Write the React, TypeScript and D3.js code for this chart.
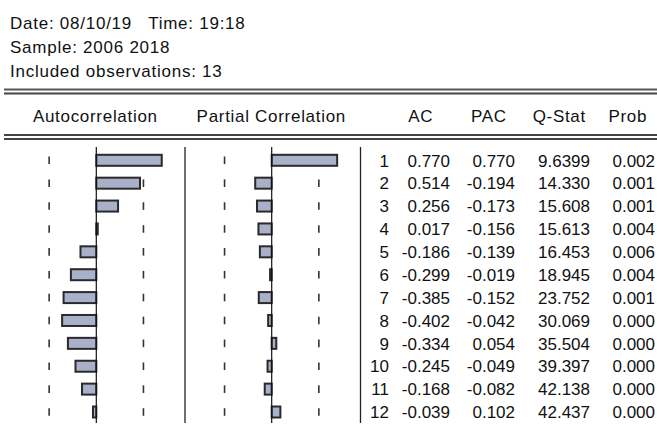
import React from "react";
import * as d3 from "d3";

const headerLines = ["Date: 08/10/19   Time: 19:18", "Sample: 2006 2018", "Included observations: 13"];
const nObs = 13;
const lags = [1, 2, 3, 4, 5, 6, 7, 8, 9, 10, 11, 12];
const ac = [0.770, 0.514, 0.256, 0.017, -0.186, -0.299, -0.385, -0.402, -0.334, -0.245, -0.168, -0.039];
const pac = [0.770, -0.194, -0.173, -0.156, -0.139, -0.019, -0.152, -0.042, 0.054, -0.049, -0.082, 0.102];
const qstat = ["9.6399", "14.330", "15.608", "15.613", "16.453", "18.945", "23.752", "30.069", "35.504", "39.397", "42.138", "42.437"];
const prob = ["0.002", "0.001", "0.001", "0.004", "0.006", "0.004", "0.001", "0.000", "0.000", "0.000", "0.000", "0.000"];
const columnTitles = ["Autocorrelation", "Partial Correlation", "AC", "PAC", "Q-Stat", "Prob"];

const W = 657;
const H = 430;
const FONT = "'Liberation Sans', Arial, sans-serif";

export default function App() {
  const bound = 2 / Math.sqrt(nObs);
  const y = d3.scaleLinear().domain([1, 12]).range([160.3, 412]);
  const xAc = d3.scaleLinear().domain([-1, 1]).range([96.3 - 85, 96.3 + 85]);
  const xPac = d3.scaleLinear().domain([-1, 1]).range([271.7 - 85, 271.7 + 85]);
  const barH = 11;
  const fill = "#a9b0ca";
  const stroke = "#2a2a2a";
  const fmt = (v: number) => v.toFixed(3);

  const panel = (x: d3.ScaleLinear<number, number>, vals: number[], key: string) => (
    <g key={key}>
      {lags.map((l) => (
        <g key={l}>
          <line x1={x(-bound)} x2={x(-bound)} y1={y(l) - 3.8} y2={y(l) + 3.8} stroke="#333" strokeWidth={1.6} />
          <line x1={x(bound)} x2={x(bound)} y1={y(l) - 3.8} y2={y(l) + 3.8} stroke="#333" strokeWidth={1.6} />
        </g>
      ))}
      {lags.map((l, i) => {
        const v = vals[i];
        const x0 = Math.min(x(0), x(v));
        const w = Math.abs(x(v) - x(0));
        return (
          <rect key={"b" + l} x={x0} y={y(l) - barH / 2} width={w} height={barH} fill={fill} stroke={stroke} strokeWidth={2} />
        );
      })}
      <line x1={x(0)} x2={x(0)} y1={147} y2={423} stroke="#111" strokeWidth={1.2} />
    </g>
  );

  return (
    <div style={{ position: "absolute", left: 0, top: 0 }}>
      <svg width={W} height={H} style={{ display: "block", background: "#fff" }}>
        <g fontFamily={FONT} fontSize={17} fill="#111" letterSpacing={0.75} style={{ whiteSpace: "pre" }}>
          {headerLines.map((t, i) => (
            <text key={i} x={10} y={29 + i * 24} xmlSpace="preserve">{t}</text>
          ))}
        </g>
        <line x1={4} x2={W} y1={89.5} y2={89.5} stroke="#555" strokeWidth={2} />
        <line x1={4} x2={W} y1={93.5} y2={93.5} stroke="#444" strokeWidth={2} />
        <line x1={4} x2={W} y1={135} y2={135} stroke="#444" strokeWidth={2} />
        <line x1={4} x2={W} y1={139} y2={139} stroke="#444" strokeWidth={2} />
        <g fontFamily={FONT} fontSize={17} fill="#111" textAnchor="middle" letterSpacing={0.7}>
          <text x={95.3} y={122}>{columnTitles[0]}</text>
          <text x={271.3} y={122}>{columnTitles[1]}</text>
          <text x={420.8} y={122}>{columnTitles[2]}</text>
          <text x={488.8} y={122}>{columnTitles[3]}</text>
          <text x={559.3} y={122}>{columnTitles[4]}</text>
          <text x={627.8} y={122}>{columnTitles[5]}</text>
        </g>
        {panel(xAc, ac, "ac")}
        {panel(xPac, pac, "pac")}
        <line x1={185} x2={185} y1={147} y2={423} stroke="#222" strokeWidth={1.3} />
        <line x1={360.5} x2={360.5} y1={147} y2={423} stroke="#222" strokeWidth={1.3} />
        <g fontFamily={FONT} fontSize={17} fill="#111" textAnchor="end">
          {lags.map((l, i) => (
            <g key={l}>
              <text x={389} y={y(l) + 6.2}>{l}</text>
              <text x={450} y={y(l) + 6.2}>{fmt(ac[i])}</text>
              <text x={515} y={y(l) + 6.2}>{fmt(pac[i])}</text>
              <text x={590} y={y(l) + 6.2}>{qstat[i]}</text>
              <text x={655} y={y(l) + 6.2}>{prob[i]}</text>
            </g>
          ))}
        </g>
      </svg>
    </div>
  );
}
